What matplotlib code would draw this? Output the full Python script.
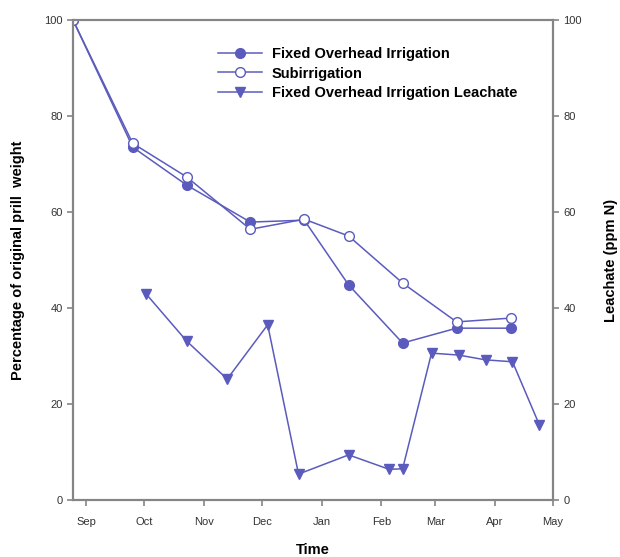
import matplotlib
matplotlib.use('Agg')
import matplotlib.pyplot as plt
import matplotlib.dates as mdates
import pandas as pd

# prill weight data
fixed_dates = ['2005-08-25', '2005-09-25', '2005-10-23', '2005-11-25', '2005-12-23',
               '2006-01-15', '2006-02-12', '2006-03-12', '2006-04-09']
fixed_vals = [100, 73.5, 65.6, 57.9, 58.3, 44.8, 32.7, 35.8, 35.8]

sub_dates = fixed_dates
sub_vals = [100, 74.3, 67.3, 56.4, 58.5, 55.0, 45.2, 37.1, 37.9]

# leachate data (right axis)
leach_dates = ['2005-10-02', '2005-10-23', '2005-11-13', '2005-12-04', '2005-12-20',
               '2006-01-15', '2006-02-05', '2006-02-12', '2006-02-27', '2006-03-13',
               '2006-03-27', '2006-04-10', '2006-04-24']
leach_vals = [42.9, 33.1, 25.2, 36.5, 5.4, 9.4, 6.4, 6.5, 30.6, 30.2, 29.2, 28.8, 15.6]

plt.rcParams['font.family'] = ['Liberation Sans', 'DejaVu Sans']
col = '#5b5bbd'
spine_col = '#858585'

fig = plt.figure(figsize=(6.2, 5.57), dpi=100)
ax = fig.add_axes([0.1177, 0.1023, 0.7742, 0.8618])
ax2 = ax.twinx()

l1, = ax.plot(pd.to_datetime(fixed_dates), fixed_vals, color=col, lw=1.1, marker='o',
              ms=7, mfc=col, mec=col, label='Fixed Overhead Irrigation')
l2, = ax.plot(pd.to_datetime(sub_dates), sub_vals, color=col, lw=1.1, marker='o',
              ms=7, mfc='white', mec=col, label='Subirrigation')
l3, = ax2.plot(pd.to_datetime(leach_dates), leach_vals, color=col, lw=1.1, marker='v',
               ms=7, mfc=col, mec=col, label='Fixed Overhead Irrigation Leachate')

ax.set_xlim(pd.Timestamp('2005-08-25'), pd.Timestamp('2006-05-01'))
ax.set_ylim(0, 100)
ax2.set_ylim(0, 100)
ax.set_yticks([0, 20, 40, 60, 80, 100])
ax2.set_yticks([0, 20, 40, 60, 80, 100])
ax.xaxis.set_major_locator(mdates.MonthLocator())
ax.xaxis.set_major_formatter(mdates.DateFormatter('%b'))

for a in (ax, ax2):
    for s in a.spines.values():
        s.set_color(spine_col)
        s.set_linewidth(1.5)
    a.tick_params(colors=spine_col, labelcolor='#333333', labelsize=8, length=4, width=1.2,
                  direction='out')
ax.tick_params(axis='x', pad=8)

ax.set_xlabel('Time', fontsize=10.5, fontweight='bold', labelpad=12)
ax.set_ylabel('Percentage of original prill  weight', fontsize=10.5, fontweight='bold', labelpad=14)
ax2.set_ylabel('Leachate (ppm N)', fontsize=10.5, fontweight='bold', labelpad=16)

leg = ax.legend(handles=[l1, l2, l3], loc='upper left', bbox_to_anchor=(0.29, 0.955),
                frameon=False, prop={'size': 10.5, 'weight': 'bold'},
                handlelength=3.0, handletextpad=0.7, labelspacing=0.35, borderaxespad=0)

fig.savefig('out.png', dpi=100)
